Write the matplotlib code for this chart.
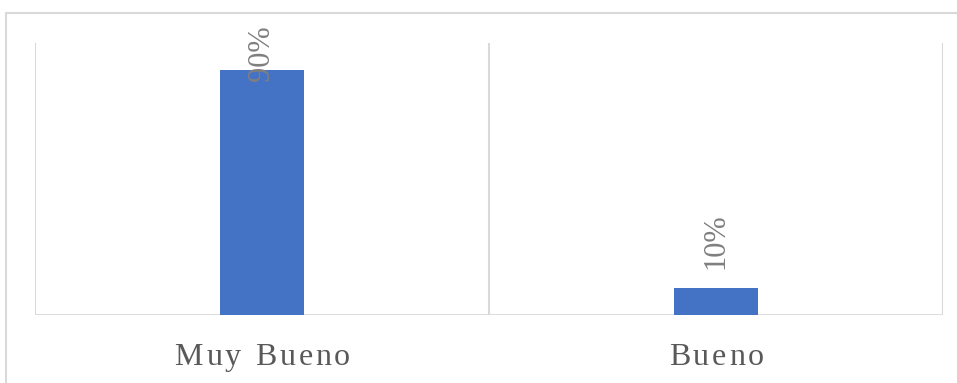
import numpy as np
import matplotlib
matplotlib.use("Agg")
import matplotlib.pyplot as plt
from matplotlib.patches import Rectangle
from matplotlib.font_manager import FontProperties, findfont
from matplotlib.ft2font import FT2Font

categories = ["Muy Bueno", "Bueno"]
values = [0.90, 0.10]
value_labels = ["90%", "10%"]

W, H, DPI = 957, 383, 100
serif = "Liberation Serif"
grid_col = "#d9d9d9"

fig = plt.figure(figsize=(W / DPI, H / DPI), dpi=DPI)
fig.patch.set_facecolor("white")

# chart area border (right/bottom edges fall outside the image)
fig.patches.append(Rectangle((5.5 / W, -0.1), 1.2, (H - 13) / H + 0.1,
                             transform=fig.transFigure, fill=False,
                             edgecolor=grid_col, lw=1.5, clip_on=False))

ax = fig.add_axes([35 / W, (H - 315) / H, 908 / W, 272 / H])
x = np.arange(len(categories))
ax.bar(x, values, width=0.183, color="#4472C4", zorder=3)
ax.set_xlim(-0.5, len(categories) - 0.5)
ax.set_ylim(0, 1)
for s in ax.spines.values():
    s.set_visible(False)
ax.set_xticks([])
ax.set_yticks([])
for b in np.arange(len(categories) + 1) - 0.5:
    ax.axvline(b, color=grid_col, lw=1.5, zorder=1)
ax.axhline(0, color=grid_col, lw=2, zorder=2)

# data labels, rotated, clamped at the top of the chart area
ax_h = 272
for xi, v, lab in zip(x, values, value_labels):
    y = min(v + 19 / ax_h, 0.86)
    ax.text(xi, y, lab, rotation=90, ha="center", va="bottom",
            fontsize=22, color="#7f7f7f", family=serif, zorder=4,
            clip_on=False)

# category labels with letter spacing
cat_pt = 23
spacing_px = 3.4
ft = FT2Font(findfont(FontProperties(family=serif)), hinting_factor=1)
ft.set_size(cat_pt, DPI)


def advances(s):
    out = []
    for c in s:
        g = ft.load_char(ord(c))
        out.append(g.horiAdvance / 64)
    return out


for xi, lab in zip(x, categories):
    adv = advances(lab)
    total = sum(adv) + spacing_px * (len(lab) - 1)
    pos = -total / 2
    for c, a in zip(lab, adv):
        if c != " ":
            ax.annotate(c, xy=(xi, 0), xycoords=ax.get_xaxis_transform(),
                        xytext=(pos * 72 / DPI, -50 * 72 / DPI),
                        textcoords="offset points", ha="left", va="baseline",
                        fontsize=cat_pt, color="#595959", family=serif,
                        annotation_clip=False)
        pos += a + spacing_px

fig.savefig("out.png", dpi=DPI)
